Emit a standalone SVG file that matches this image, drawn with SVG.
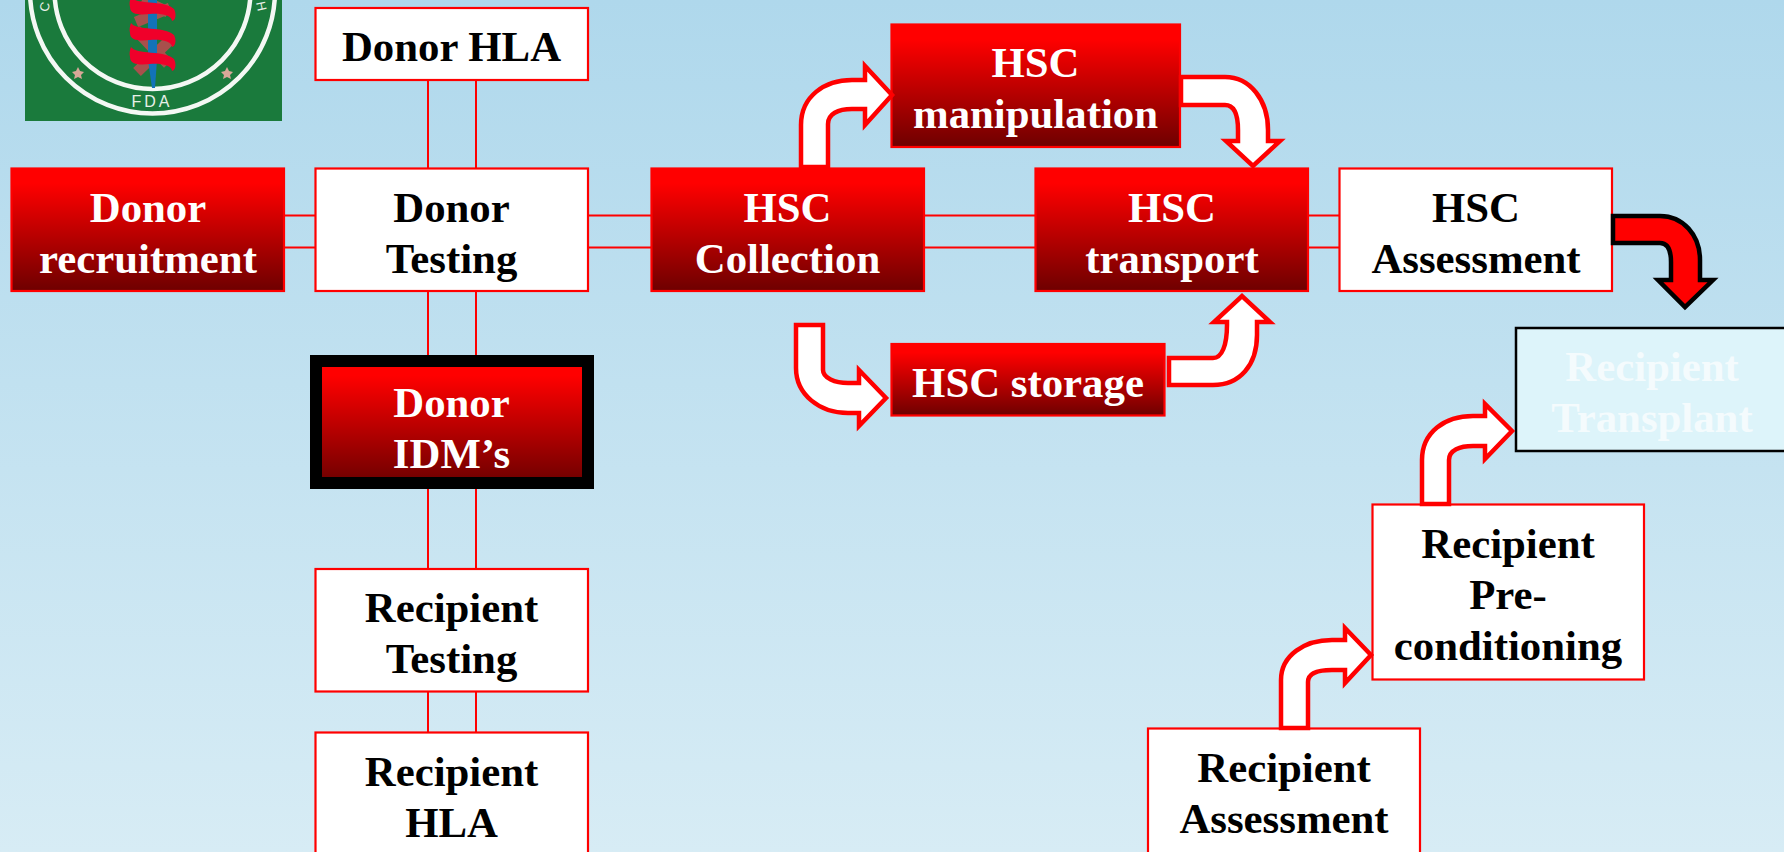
<svg xmlns="http://www.w3.org/2000/svg" width="1784" height="852" viewBox="0 0 1784 852">
<style>
text{font-family:"Liberation Serif","Times New Roman",serif;font-weight:700;font-size:42.8px;text-anchor:middle}
.w rect{fill:#fff;stroke:#f00;stroke-width:2.2}
.w text{fill:#000}
.r rect{fill:url(#rg);stroke:#f00;stroke-width:2.2}
.r text{fill:#fff}
.l{stroke:#f00;stroke-width:2;fill:none}
.a{fill:#fff;stroke:#f00;stroke-width:4.5;stroke-linejoin:miter}
.b{fill:#f00;stroke:#000;stroke-width:4.5}
.g{fill:#e8f0e8}
.s{fill:none;stroke:#a8504c;stroke-width:11}
.n{fill:#f0002a}
</style>
<defs>
<linearGradient id="bg" x1="0" y1="0" x2="0" y2="1"><stop offset="0" stop-color="#afd8ec"/><stop offset="1" stop-color="#d7ecf5"/></linearGradient>
<linearGradient id="rg" x1="0" y1="0" x2="0" y2="1"><stop offset="0.12" stop-color="#f00"/><stop offset="1" stop-color="#6e0000"/></linearGradient>
<path id="band" d="M131 0C136 8 165 3 174 12C176 16 176 20 174 23L172 24C172 18 160 16 150 17C140 18 130 18 130 10C129 6 130 3 131 0Z"/>
</defs>
<rect width="1784" height="852" fill="url(#bg)"/>
<g id="logo">
<rect x="25" y="0" width="257" height="121" fill="#1a7a3c"/>
<circle cx="152.500" cy="-9" r="122.500" fill="none" stroke="#f4f8f4" stroke-width="4.500"/>
<circle cx="152.500" cy="-9" r="98" fill="none" stroke="#f4f8f4" stroke-width="4.500"/>
<path class="s" d="M137 72L170 40M168 64L136 30M136 22L170 8M168 12L142 0"/>
<path d="M148 0H157V60L155 88H152L148 60Z" fill="#1273b8"/>
<use href="#band" class="n" y="-3"/>
<use href="#band" class="n" y="23"/>
<use href="#band" class="n" y="47"/>
<path d="M78 67L80 71L84 72L81 75L82 79L78 77L74 79L75 75L72 72L76 71ZM227 67L229 71L233 72L230 75L231 79L227 77L223 79L224 75L221 72L225 71Z" fill="#d8a898"/>
<text class="g" x="152" y="107" style="font-size:16px;letter-spacing:3px;font-family:'Liberation Sans',Arial,sans-serif;font-weight:400">FDA</text>
<text class="g" transform="translate(49 8) rotate(-75)" style="font-size:13px;font-family:'Liberation Sans',Arial,sans-serif;font-weight:400">C</text>
<text class="g" transform="translate(257 7) rotate(78)" style="font-size:13px;font-family:'Liberation Sans',Arial,sans-serif;font-weight:400">H</text>
</g>
<g id="connectors">
<path class="l" d="M428 80V168M476 80V168M428 291V355M476 291V355M428 489V568M476 489V568M428 692V732M476 692V732M284 215.500H315M284 247.500H315M588 215.500H651M588 247.500H651M924 215.500H1035M924 247.500H1035M1308 215.500H1340M1308 247.500H1340"/>
</g>
<g id="donor-hla" class="w"><rect x="315.500" y="8" width="272.500" height="72"/><text x="451.500" y="61">Donor HLA</text></g>
<g id="donor-recruitment" class="r"><rect x="11.500" y="168.500" width="272.500" height="122.500"/><text x="148" y="221.500">Donor</text><text x="148" y="272.500">recruitment</text></g>
<g id="donor-testing" class="w"><rect x="315.500" y="168.500" width="272.500" height="122.500"/><text x="451.500" y="221.500">Donor</text><text x="451.500" y="272.500">Testing</text></g>
<g id="hsc-collection" class="r"><rect x="651.500" y="168.500" width="272.500" height="122.500"/><text x="787.500" y="221.500">HSC</text><text x="787.500" y="272.500">Collection</text></g>
<g id="hsc-manipulation" class="r"><rect x="891.500" y="24.500" width="288.500" height="122.500"/><text x="1035.500" y="77">HSC</text><text x="1035.500" y="127.500">manipulation</text></g>
<g id="hsc-transport" class="r"><rect x="1035.500" y="168.500" width="272.500" height="122.500"/><text x="1172" y="221.500">HSC</text><text x="1172" y="272.500">transport</text></g>
<g id="hsc-assessment" class="w"><rect x="1339.500" y="168.500" width="272.500" height="122.500"/><text x="1476" y="221.500">HSC</text><text x="1476" y="272.500">Assessment</text></g>
<g id="hsc-storage" class="r"><rect x="891.500" y="344" width="273" height="71.500"/><text x="1028" y="397">HSC storage</text></g>
<g id="donor-idms" class="r"><rect x="316" y="361" width="272" height="122" style="stroke:#000;stroke-width:12"/><text x="451.500" y="417">Donor</text><text x="451.500" y="468">IDM’s</text></g>
<g id="recipient-testing" class="w"><rect x="315.500" y="569" width="272.500" height="122.500"/><text x="451.500" y="622">Recipient</text><text x="451.500" y="673">Testing</text></g>
<g id="recipient-hla" class="w"><rect x="315.500" y="732.500" width="272.500" height="125"/><text x="451.500" y="785.500">Recipient</text><text x="451.500" y="837">HLA</text></g>
<g id="recipient-transplant"><rect x="1516" y="328" width="280" height="123" fill="#ddf4fa" stroke="#000" stroke-width="2.500"/><text x="1652" y="381" fill="#f4fbfd">Recipient</text><text x="1652" y="432" fill="#f4fbfd">Transplant</text></g>
<g id="recipient-preconditioning" class="w"><rect x="1372.500" y="504.500" width="271.500" height="175"/><text x="1508" y="558">Recipient</text><text x="1508" y="609">Pre-</text><text x="1508" y="659.500">conditioning</text></g>
<g id="recipient-assessment" class="w"><rect x="1148" y="728.500" width="272" height="125"/><text x="1284" y="781.500">Recipient</text><text x="1284" y="832.500">Assessment</text></g>
<g id="arrows">
<path class="a" d="M801 167V125C801 96 825 80 852 80H865V66L892 95L865 125V109H852C838 109 828 114 828 124V167Z"/>
<path class="a" d="M1181 77H1225C1250 77 1268 100 1268 130V141H1280L1253 166L1226 141H1238V130C1238 115 1234 105 1225 105H1181Z"/>
<path class="a" d="M796 325H823V370C823 378 835 383 848 383H859V370L886 398L859 426V413H848C820 413 796 395 796 368Z"/>
<path class="a" d="M1169 358H1213C1222 358 1227 345 1227 325V322H1214L1242 296L1270 322H1257V335C1257 365 1240 385 1213 385H1169Z"/>
<path class="b" d="M1613 216H1660C1683 216 1700 235 1700 260V280H1713L1685 307L1658 280H1671V262C1671 250 1668 243 1660 243H1613Z"/>
<path class="a" d="M1422 504V460C1422 432 1445 416 1473 416H1485V404L1512 431L1485 459V446H1473C1460 446 1449 450 1449 460V504Z"/>
<path class="a" d="M1281 728V680C1281 655 1305 640 1332 640H1345V628L1371 655L1345 683V670H1332C1319 670 1308 672 1308 682V728Z"/>
</g>
</svg>
